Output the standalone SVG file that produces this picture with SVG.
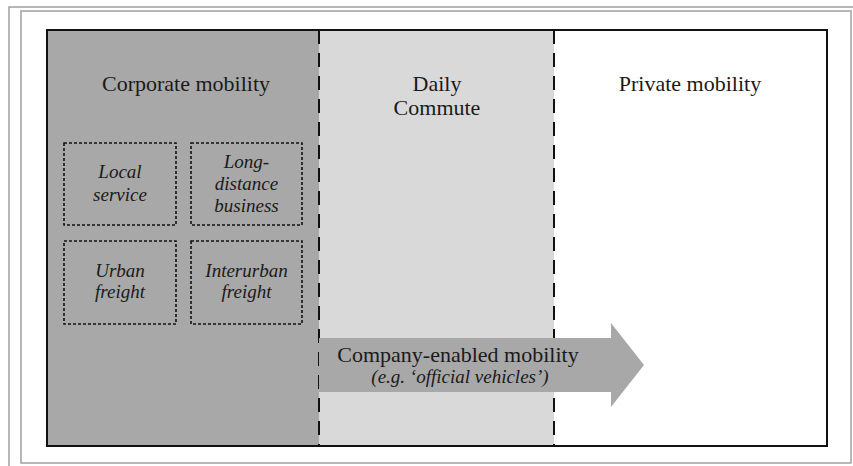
<svg xmlns="http://www.w3.org/2000/svg" width="853" height="466" viewBox="0 0 853 466">
<style>
.lbl{font-family:"Liberation Serif","Times New Roman",serif;font-size:22px;fill:#1a1a1a;text-anchor:middle}
.it{font-family:"Liberation Serif","Times New Roman",serif;font-style:italic;font-size:19px;fill:#1a1a1a;text-anchor:middle}
.box{fill:none;stroke:#111;stroke-width:1.6;stroke-dasharray:3 2}
.div{stroke:#111;stroke-width:2;stroke-dasharray:14 9}
.frame{fill:none;stroke:#a0a0a0;stroke-width:1.5}
</style>
<rect width="853" height="466" fill="#fff"/>
<g id="frame">
<path class="frame" d="M9,466 V7 H853"/>
<rect class="frame" x="21" y="11" width="830" height="452"/>
</g>
<g id="zones">
<rect id="corporate-zone" x="47" y="30" width="272" height="416" fill="#a8a8a8"/>
<rect id="commute-zone" x="319" y="30" width="235" height="416" fill="#d9d9d9"/>
<rect id="private-zone" x="554" y="30" width="273" height="416" fill="#fff"/>
</g>
<g id="dividers">
<line class="div" x1="319" y1="30" x2="319" y2="446"/>
<line class="div" x1="554" y1="30" x2="554" y2="446"/>
</g>
<g id="connectors">
<path id="arrow" d="M319,338 H611 V323 L644,365 L611,407 V392 H319 Z" fill="#a8a8a8"/>
</g>
<rect x="47" y="30" width="780" height="416" fill="none" stroke="#111" stroke-width="2"/>
<g id="corporate-mobility"><text class="lbl" x="186" y="91">Corporate mobility</text></g>
<g id="daily-commute"><text class="lbl" x="437" y="91">Daily</text><text class="lbl" x="437" y="115">Commute</text></g>
<g id="private-mobility"><text class="lbl" x="690" y="91">Private mobility</text></g>
<g id="local-service">
<rect class="box" x="64" y="143" width="112" height="82"/>
<text class="it" x="120" y="178">Local</text><text class="it" x="120" y="201">service</text>
</g>
<g id="long-distance-business">
<rect class="box" x="191" y="143" width="111" height="82"/>
<text class="it" x="246.5" y="168">Long-</text><text class="it" x="246.5" y="190">distance</text><text class="it" x="246.5" y="212">business</text>
</g>
<g id="urban-freight">
<rect class="box" x="64" y="241" width="112" height="83"/>
<text class="it" x="120" y="277">Urban</text><text class="it" x="120" y="298">freight</text>
</g>
<g id="interurban-freight">
<rect class="box" x="191" y="241" width="111" height="83"/>
<text class="it" x="246.5" y="277">Interurban</text><text class="it" x="246.5" y="298">freight</text>
</g>
<g id="company-enabled-mobility">
<text class="lbl" x="458" y="362">Company-enabled mobility</text>
<text class="it" x="460" y="383">(e.g. ‘official vehicles’)</text>
</g>
</svg>
